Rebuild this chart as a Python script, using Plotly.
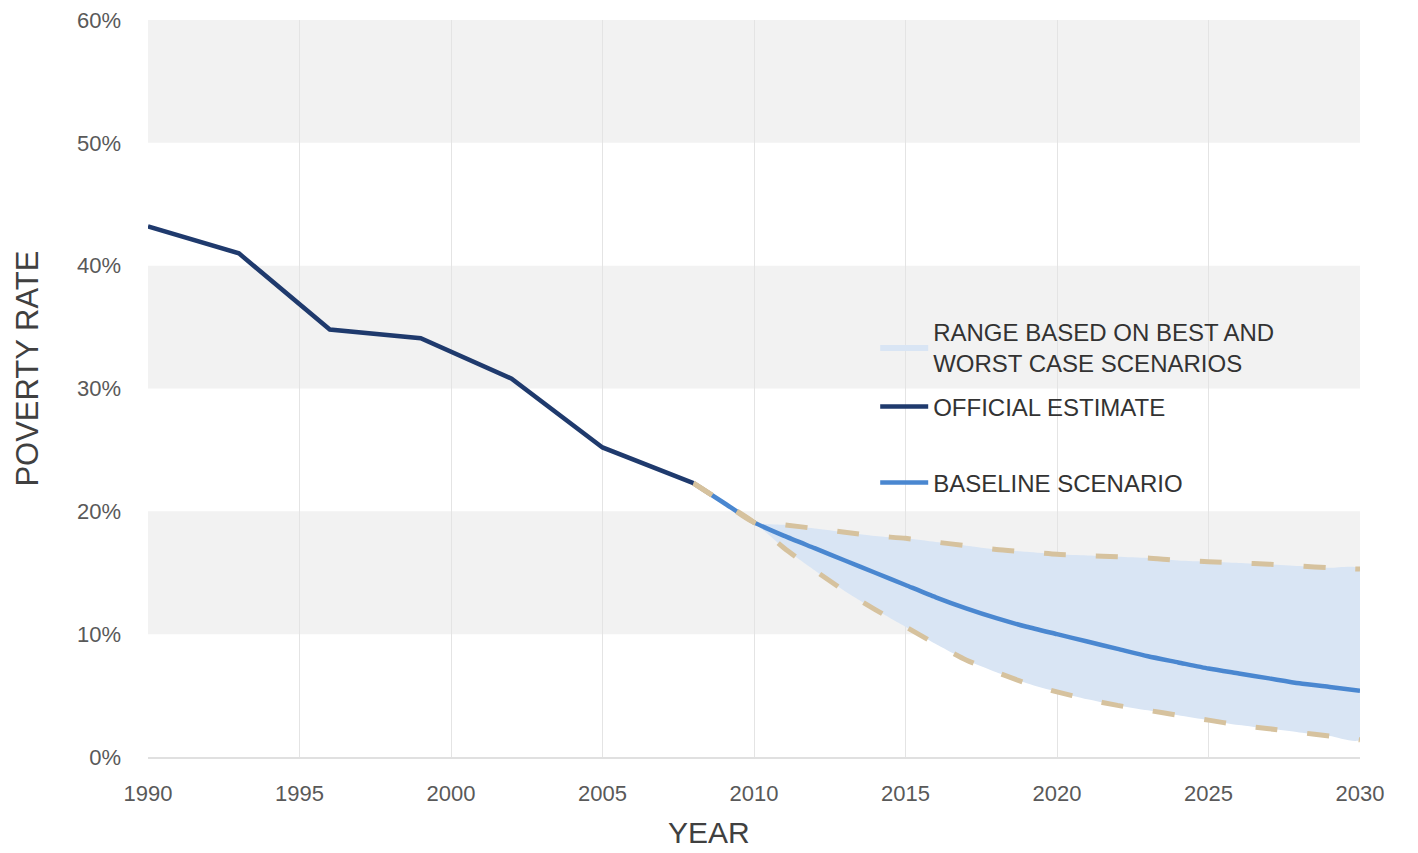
import plotly.graph_objects as go

official_years = [1990, 1993, 1996, 1999, 2002, 2005, 2008]
official = [43.2, 41.0, 34.8, 34.1, 30.8, 25.2, 22.3]

scen_years = list(range(2008, 2031))
baseline = [22.3, 20.7, 19.1, 18.0, 17.0, 16.0, 15.0, 14.0, 13.0, 12.1, 11.3, 10.6,
            10.0, 9.4, 8.8, 8.2, 7.7, 7.2, 6.8, 6.4, 6.0, 5.7, 5.4]
upper = [22.3, 20.7, 19.1, 18.9, 18.6, 18.3, 18.0, 17.8, 17.5, 17.2, 16.9, 16.7,
         16.5, 16.4, 16.3, 16.2, 16.0, 15.9, 15.8, 15.7, 15.55, 15.4, 15.3]
lower = [22.3, 20.7, 19.1, 17.0, 15.2, 13.5, 12.0, 10.6, 9.2, 7.9, 6.9, 6.0,
         5.3, 4.7, 4.2, 3.8, 3.4, 3.0, 2.6, 2.3, 2.0, 1.7, 1.4]

x_ticks = [1990, 1995, 2000, 2005, 2010, 2015, 2020, 2025, 2030]
y_ticks = [0, 10, 20, 30, 40, 50, 60]
y_tick_labels = ["0%", "10%", "20%", "30%", "40%", "50%", "60%"]
gray_bands = [(10, 20), (30, 40), (50, 60)]

FONT = "Liberation Sans, Arial, sans-serif"
NAVY = "#1f3a6d"
BLUE = "#4a87d0"
FILL = "#d9e5f4"
TAN = "#d6c29e"

fig = go.Figure()

fig.add_trace(go.Scatter(
    x=scen_years + scen_years[::-1], y=upper + lower[::-1],
    fill="toself", fillcolor=FILL, line=dict(width=0, shape="spline", smoothing=0.6),
    mode="lines", hoverinfo="skip",
    name="RANGE BASED ON BEST AND<br>WORST CASE SCENARIOS", legend="legend"))

fig.add_trace(go.Scatter(
    x=scen_years, y=baseline, mode="lines",
    line=dict(color=BLUE, width=4.5, shape="spline", smoothing=0.6),
    name="BASELINE SCENARIO", legend="legend3"))

for ys in (upper, lower):
    fig.add_trace(go.Scatter(
        x=scen_years, y=ys, mode="lines",
        line=dict(color=TAN, width=5, dash="22px,30px", shape="spline", smoothing=0.6),
        showlegend=False, hoverinfo="skip"))

fig.add_trace(go.Scatter(
    x=official_years, y=official, mode="lines",
    line=dict(color=NAVY, width=4.5),
    name="OFFICIAL ESTIMATE", legend="legend2"))

for lo, hi in gray_bands:
    fig.add_shape(type="rect", xref="paper", yref="y", x0=0, x1=1, y0=lo, y1=hi,
                  fillcolor="#f2f2f2", line=dict(width=0), layer="below")

leg_common = dict(font=dict(family=FONT, size=24, color="#333333"),
                  bgcolor="rgba(0,0,0,0)", itemwidth=48,
                  xanchor="left", yanchor="middle", x=0.6)

fig.add_annotation(text="POVERTY RATE", xref="paper", yref="paper",
                   x=-0.099, y=0.527, xanchor="center", yanchor="middle",
                   textangle=-90, showarrow=False,
                   font=dict(family=FONT, size=31, color="#404040"))
fig.add_annotation(text="YEAR", xref="paper", yref="paper",
                   x=0.463, y=-0.127, xanchor="center", yanchor="bottom",
                   showarrow=False,
                   font=dict(family=FONT, size=30, color="#404040"))

fig.update_layout(
    width=1410, height=845,
    margin=dict(l=140, r=58, t=12, b=96),
    paper_bgcolor="white", plot_bgcolor="white",
    font=dict(family=FONT, color="#595959"),
    legend=dict(**leg_common, y=0.556),
    legend2=dict(**leg_common, y=0.475),
    legend3=dict(**leg_common, y=0.372),
    xaxis=dict(
        range=[1990, 2030], tickvals=x_ticks, showgrid=True, gridcolor="#e4e4e4",
        gridwidth=1, zeroline=False, showline=True, linecolor="#e0e0e0", linewidth=2,
        ticks="", ticklabelstandoff=16, automargin=False, ticklabeloverflow="allow",
        tickfont=dict(family=FONT, size=22, color="#595959")),
    yaxis=dict(
        range=[0, 60], tickvals=y_ticks, ticktext=y_tick_labels, showgrid=False,
        zeroline=False, ticks="", ticklabelstandoff=26, automargin=False,
        ticklabeloverflow="allow",
        tickfont=dict(family=FONT, size=22, color="#595959")),
)

fig.write_html("out.html")
